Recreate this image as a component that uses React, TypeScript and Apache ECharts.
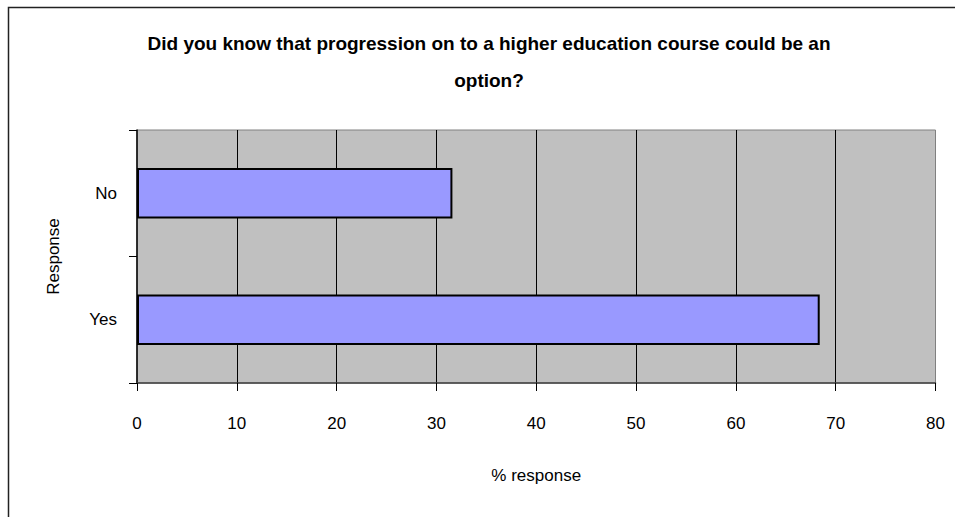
import React, { useEffect, useRef } from "react";
import * as echarts from "echarts";

// Survey answers, share of respondents (%)
const categories = ["Yes", "No"];
const percentages = [68.4, 31.6];
const xTicks = { min: 0, max: 80, interval: 10 };

const titleLines = [
  "Did you know that progression on to a higher education course could be an",
  "option?",
];

const FONT = "'Liberation Sans', Arial, sans-serif";
const LABEL_SIZE = 17;

export default function App() {
  const ref = useRef<HTMLDivElement>(null);

  useEffect(() => {
    document.body.style.margin = "0";
    if (!ref.current) return;
    const chart = echarts.init(ref.current, undefined, { renderer: "svg" });
    chart.setOption({
      animation: false,
      backgroundColor: "#ffffff",
      textStyle: { fontFamily: FONT },
      title: {
        text: titleLines.join("\n"),
        left: 484,
        top: 20,
        textAlign: "center",
        textStyle: {
          fontFamily: FONT,
          fontSize: 19,
          fontWeight: "bold",
          color: "#000",
          lineHeight: 37,
        },
      },
      graphic: [
        {
          type: "rect",
          shape: { x: 8.5, y: 7.5, width: 1000, height: 600 },
          style: { fill: "none", stroke: "#222", lineWidth: 1.5 },
          silent: true,
        },
      ],
      grid: {
        left: 137,
        right: 19.5,
        top: 130,
        bottom: 134,
        show: true,
        backgroundColor: "#C0C0C0",
        borderColor: "#808080",
        borderWidth: 1,
      },
      xAxis: {
        type: "value",
        min: xTicks.min,
        max: xTicks.max,
        interval: xTicks.interval,
        name: "% response",
        nameLocation: "middle",
        nameGap: 84,
        nameTextStyle: { fontFamily: FONT, fontSize: LABEL_SIZE, color: "#000" },
        axisLine: { show: true, lineStyle: { color: "#404040", width: 1.5 } },
        axisTick: { show: true, length: 8, lineStyle: { color: "#000" } },
        axisLabel: { margin: 32, fontFamily: FONT, fontSize: LABEL_SIZE, color: "#000" },
        splitLine: {
          show: true,
          showMinLine: false,
          showMaxLine: false,
          lineStyle: { color: "#000", width: 1 },
        },
      },
      yAxis: {
        type: "category",
        data: categories,
        name: "Response",
        nameLocation: "middle",
        nameGap: 75,
        nameRotate: 90,
        nameTextStyle: { fontFamily: FONT, fontSize: LABEL_SIZE, color: "#000" },
        axisLine: { show: true, lineStyle: { color: "#000", width: 1.5 } },
        axisTick: { show: true, length: 8, lineStyle: { color: "#000" } },
        axisLabel: { margin: 20, fontFamily: FONT, fontSize: LABEL_SIZE, color: "#000" },
      },
      series: [
        {
          type: "bar",
          data: percentages,
          barCategoryGap: "60%",
          itemStyle: { color: "#9999FF", borderColor: "#000", borderWidth: 2 },
        },
      ],
    });
    return () => chart.dispose();
  }, []);

  return (
    <div
      ref={ref}
      style={{ position: "absolute", left: 0, top: 0, width: 955, height: 517 }}
    />
  );
}
